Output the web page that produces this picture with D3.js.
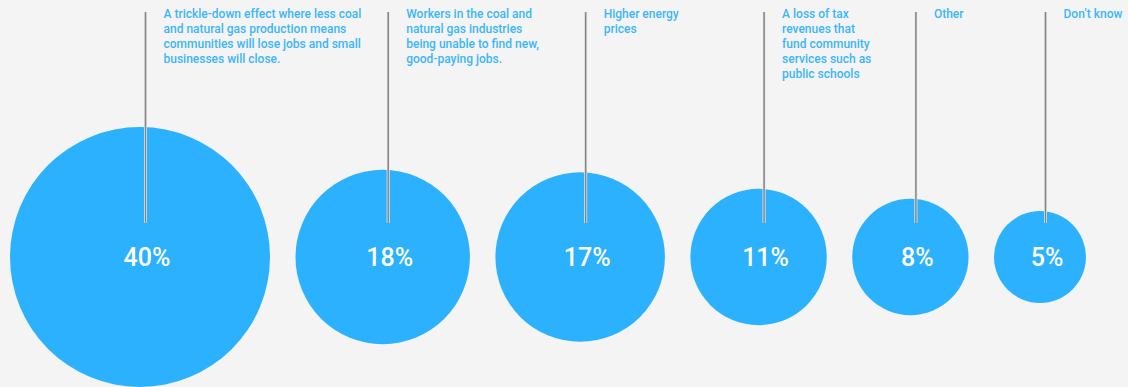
<!DOCTYPE html>
<html>
<head>
<meta charset="utf-8">
<script src="https://cdn.jsdelivr.net/npm/d3@7"></script>
<style>
  html, body { margin: 0; padding: 0; background: #f4f4f4; }
  svg { display: block; }
</style>
</head>
<body>
<svg id="chart" width="1128" height="387"></svg>
<script>
// Survey answers: share of respondents per concern
const categories = [
  ["A trickle-down effect where less coal", "and natural gas production means", "communities will lose jobs and small", "businesses will close."],
  ["Workers in the coal and", "natural gas industries", "being unable to find new,", "good-paying jobs."],
  ["Higher energy", "prices"],
  ["A loss of tax", "revenues that", "fund community", "services such as", "public schools"],
  ["Other"],
  ["Don\u2019t know"]
];
const values = [40, 18, 17, 11, 8, 5];

const width = 1128, height = 387;
const svg = d3.select("#chart");

// Circle area is proportional to the share
const r = d3.scaleSqrt().domain([0, 40]).range([0, 130]);

const left = 10, gap = 25.5, cy = 257;
const nodes = [];
let x = left;
values.forEach((v, i) => {
  const rad = r(v);
  nodes.push({ v, label: categories[i], cx: x + rad, r: rad });
  x += 2 * rad + gap;
});

const g = svg.selectAll("g.item").data(nodes).join("g").attr("class", "item");

g.append("circle")
  .attr("cx", d => d.cx)
  .attr("cy", cy)
  .attr("r", d => d.r)
  .attr("fill", "#2bb1fe");

// Leader lines from the caption down into each circle
g.append("line")
  .attr("x1", d => d.cx + 5.5)
  .attr("x2", d => d.cx + 5.5)
  .attr("y1", 12)
  .attr("y2", 223)
  .attr("stroke", "#e6e6e6")
  .attr("stroke-width", 3);
g.append("line")
  .attr("x1", d => d.cx + 5.5)
  .attr("x2", d => d.cx + 5.5)
  .attr("y1", 12)
  .attr("y2", 223)
  .attr("stroke", "#858585")
  .attr("stroke-width", 1.5);

// Captions
g.append("text")
  .attr("x", d => d.cx + 23.5)
  .attr("y", 18)
  .attr("fill", "#3cb6f8")
  .attr("font-family", "Roboto, 'Noto Sans', sans-serif")
  .attr("font-size", 12)
  .attr("font-weight", 500)
  .selectAll("tspan")
  .data(d => d.label.map(t => ({ t, x: d.cx + 23.5 })))
  .join("tspan")
  .attr("x", t => t.x)
  .attr("dy", (t, i) => i === 0 ? 0 : 15)
  .text(t => t.t);

// Percentage inside each circle
g.append("text")
  .attr("x", d => d.cx + 7)
  .attr("y", cy + 9)
  .attr("text-anchor", "middle")
  .attr("fill", "#ffffff")
  .attr("font-family", "Roboto, 'Noto Sans', sans-serif")
  .attr("font-size", 25)
  .attr("font-weight", 500)
  .text(d => d.v + "%");
</script>
</body>
</html>
